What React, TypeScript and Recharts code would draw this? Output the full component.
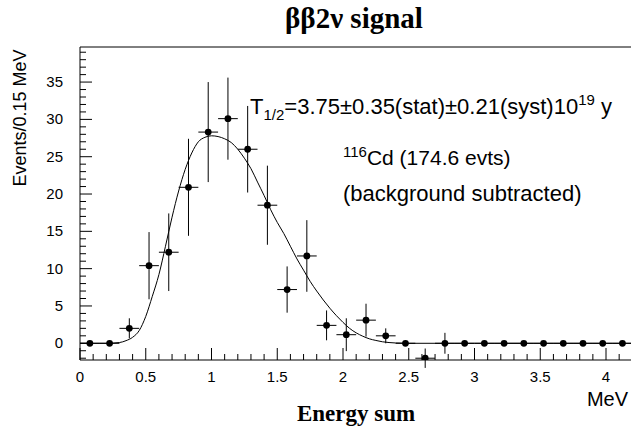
import { ComposedChart, Line, Scatter, ErrorBar, XAxis, YAxis } from "recharts"

// measured histogram: 0.15 MeV bins
const binCenters = [
  0.075, 0.225, 0.375, 0.525, 0.675, 0.825, 0.975, 1.125, 1.275, 1.425, 1.575, 1.725, 1.875, 2.025,
  2.175, 2.325, 2.475, 2.625, 2.775, 2.925, 3.075, 3.225, 3.375, 3.525, 3.675, 3.825, 3.975, 4.125,
]
const counts = [
  0, 0, 2.0, 10.4, 12.2, 20.9, 28.3, 30.1, 26.0, 18.5, 7.2, 11.7, 2.4, 1.15,
  3.1, 1.0, 0, -2.0, 0, 0, 0, 0, 0, 0, 0, 0, 0, 0,
]
const countErrors = [
  0, 0, 1.35, 4.5, 5.2, 6.5, 6.7, 5.5, 5.8, 5.3, 3.1, 4.8, 2.0, 2.2,
  2.2, 1.0, 0, 1.3, 1.4, 0, 0, 0, 0, 0, 0, 0, 0, 0,
]
const binHalfWidth = 0.075

// fitted 2nu spectrum
const fitX = [
  0, 0.1, 0.2, 0.3, 0.35, 0.4, 0.45, 0.5, 0.55, 0.6, 0.65, 0.7, 0.75, 0.8, 0.85, 0.9, 0.95, 1.0,
  1.05, 1.1, 1.15, 1.2, 1.25, 1.3, 1.35, 1.4, 1.45, 1.5, 1.55, 1.6, 1.65, 1.7, 1.75, 1.8, 1.85,
  1.9, 1.95, 2.0, 2.05, 2.1, 2.15, 2.2, 2.25, 2.3, 2.35, 2.4, 2.5, 3.0, 3.5, 4.0, 4.19,
]
const fitY = [
  0, 0, 0, 0.1, 0.35, 0.8, 1.7, 3.6, 6.3, 9.2, 13.0, 16.9, 20.4, 23.3, 25.5, 27.0, 27.6, 27.8,
  27.7, 27.4, 26.9, 26.0, 24.8, 23.4, 21.6, 19.8, 17.9, 16.2, 14.7, 13.0, 11.3, 9.8, 8.3, 7.0, 5.8,
  4.7, 3.7, 2.8, 2.0, 1.4, 0.95, 0.6, 0.38, 0.2, 0.1, 0.04, 0, 0, 0, 0, 0,
]

const xMajor = ["0", "0.5", "1", "1.5", "2", "2.5", "3", "3.5", "4"]
const yMajor = ["0", "5", "10", "15", "20", "25", "30", "35"]

const points = binCenters.map((x, i) => ({ x, y: counts[i], ey: countErrors[i], ex: binHalfWidth }))
const fit = fitX.map((x, i) => ({ x, y: fitY[i] }))

const xTicks = Array.from({ length: 42 }, (_, i) => Math.round(i * 10) / 100)
const yTicks = Array.from({ length: 42 }, (_, i) => i - 2)

const W = 631
const H = 432
const LEFT = 80
const TOP = 47
const BOTTOM = 360
const SANS = "'Liberation Sans', Arial, sans-serif"
const SERIF = "'Liberation Serif', 'Times New Roman', serif"

function XTick(props: any) {
  const x = props.payload.coordinate ?? props.x
  const v = props.payload.value
  const label = xMajor.find((s) => Math.abs(parseFloat(s) - v) < 1e-6)
  return (
    <g>
      <line x1={x} x2={x} y1={BOTTOM} y2={BOTTOM - (label ? 12 : 6)} stroke="#000" />
      {label && (
        <text x={x} y={382} textAnchor="middle" fontFamily={SANS} fontSize={15} fill="#000">
          {label}
        </text>
      )}
    </g>
  )
}

function YTick(props: any) {
  const y = props.payload.coordinate ?? props.y
  const v = props.payload.value
  const label = yMajor.find((s) => parseFloat(s) === v)
  return (
    <g>
      <line x1={LEFT} x2={LEFT + (label ? 12 : 6)} y1={y} y2={y} stroke="#000" />
      {label && (
        <text x={63} y={y + 5} textAnchor="end" fontFamily={SANS} fontSize={15} fill="#000">
          {label}
        </text>
      )}
    </g>
  )
}

const Dot = (props: any) => <circle cx={props.cx} cy={props.cy} r={3.4} fill="#000" />

export default function App() {
  return (
    <div style={{ position: "absolute", left: 0, top: 0, width: W, height: H, background: "#fff" }}>
      <ComposedChart width={W} height={H} margin={{ top: TOP, right: 0, bottom: 42, left: 40 }}>
        <XAxis
          type="number"
          dataKey="x"
          domain={[0, 4.19]}
          allowDataOverflow
          ticks={xTicks}
          interval={0}
          tick={<XTick />}
          tickLine={false}
          axisLine={{ stroke: "#000" }}
          height={30}
        />
        <YAxis
          type="number"
          domain={[-2.24, 39.7]}
          allowDataOverflow
          ticks={yTicks}
          interval={0}
          tick={<YTick />}
          tickLine={false}
          axisLine={{ stroke: "#000" }}
          width={40}
        />
        <Line
          data={fit}
          dataKey="y"
          type="monotone"
          dot={false}
          stroke="#000"
          strokeWidth={1}
          isAnimationActive={false}
        />
        <Scatter data={points} dataKey="y" shape={<Dot />} isAnimationActive={false}>
          <ErrorBar dataKey="ey" direction="y" width={0} stroke="#000" strokeWidth={1} />
          <ErrorBar dataKey="ex" direction="x" width={0} stroke="#000" strokeWidth={1} />
        </Scatter>
      </ComposedChart>
      <svg
        width={W}
        height={H}
        style={{ position: "absolute", left: 0, top: 0, pointerEvents: "none" }}
      >
        <line x1={LEFT} x2={W} y1={TOP} y2={TOP} stroke="#000" />
        <text x={354} y={28} textAnchor="middle" fontFamily={SERIF} fontWeight="bold" fontSize={29}>
          ββ2ν signal
        </text>
        <text x={356} y={421} textAnchor="middle" fontFamily={SERIF} fontWeight="bold" fontSize={23}>
          Energy sum
        </text>
        <text x={628} y={406} textAnchor="end" fontFamily={SANS} fontSize={20}>
          MeV
        </text>
        <text
          transform="translate(26,118) rotate(-90)"
          textAnchor="middle"
          fontFamily={SANS}
          fontSize={18}
        >
          Events/0.15 MeV
        </text>
        <text x={250} y={114} fontFamily={SANS} fontSize={22} style={{ whiteSpace: "pre" }}>
          T
          <tspan fontSize={15} dy={6}>1/2</tspan>
          <tspan dy={-6}>=3.75±0.35(stat)±0.21(syst)10</tspan>
          <tspan fontSize={15} dy={-9}>19</tspan>
          <tspan dy={9}> y</tspan>
        </text>
        <text x={343} y={165} fontFamily={SANS} fontSize={21} style={{ whiteSpace: "pre" }}>
          <tspan fontSize={15} dy={-8}>116</tspan>
          <tspan dy={8}>Cd (174.6 evts)</tspan>
        </text>
        <text x={343} y={201} fontFamily={SANS} fontSize={22}>
          (background subtracted)
        </text>
      </svg>
    </div>
  )
}
